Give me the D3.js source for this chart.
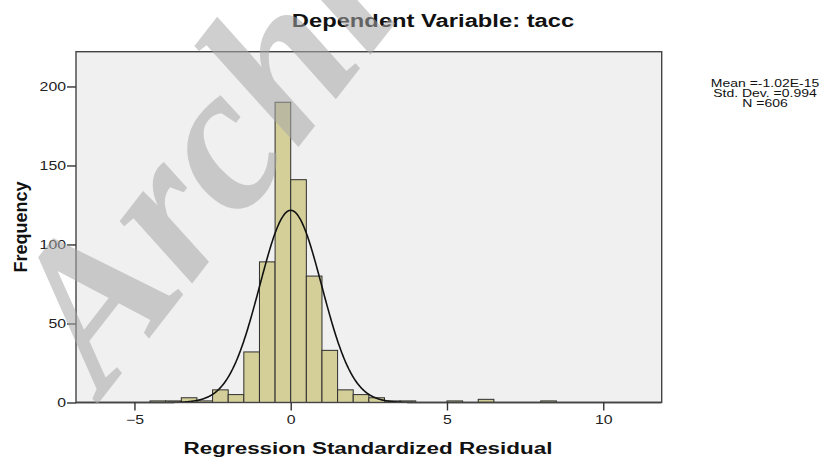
<!DOCTYPE html>
<html>
<head>
<meta charset="utf-8">
<script src="https://cdn.jsdelivr.net/npm/d3@7"></script>
<style>
  body { margin: 0; background: #fff; }
  svg { display: block; font-family: "Liberation Sans", Arial, sans-serif; }
</style>
</head>
<body>
<div id="chart"></div>
<script>
// histogram bins (left edge of each 0.5 wide bin) and frequencies
const binStarts = [-4.5, -4, -3.5, -3, -2.5, -2, -1.5, -1, -0.5, 0, 0.5, 1, 1.5, 2, 2.5, 3, 3.5, 5, 6, 8];
const counts    = [1, 1, 3, 1, 8, 5, 32, 89, 190, 141, 80, 33, 8, 5, 3, 1, 1, 1, 2, 1];
const binWidth = 0.5;

const xTicks = [-5, 0, 5, 10];
const yTicks = [0, 50, 100, 150, 200];

// fitted normal curve parameters
const mean = -1.02e-15;
const stdDev = 0.994;
const n = 606;
const statLines = ["Mean =-1.02E-15", "Std. Dev. =0.994", "N =606"];

const title = "Dependent Variable: tacc";
const xTitle = "Regression Standardized Residual";
const yTitle = "Frequency";

const width = 828, height = 459;
const sx = 1.32; // picture is stretched sideways

const svg = d3.select("#chart").append("svg")
    .attr("width", width)
    .attr("height", height);

const x = d3.scaleLinear().domain([-6.87, 11.87]).range([76, 661.7]);
const y = d3.scaleLinear().domain([0, 222]).range([402.5, 51.7]);

// plot background
svg.append("rect")
    .attr("x", x.range()[0])
    .attr("y", y.range()[1])
    .attr("width", x.range()[1] - x.range()[0])
    .attr("height", y.range()[0] - y.range()[1])
    .attr("fill", "#f0f0f0");

const bins = binStarts.map((s, i) => ({ x0: s, x1: s + binWidth, count: counts[i] }));

svg.selectAll(".bar")
    .data(bins)
    .enter()
    .append("rect")
    .attr("class", "bar")
    .attr("x", d => x(d.x0))
    .attr("y", d => y(d.count))
    .attr("width", d => x(d.x1) - x(d.x0))
    .attr("height", d => y(0) - y(d.count))
    .attr("fill", "#d4cf99")
    .attr("stroke", "#2e2e2e")
    .attr("stroke-width", 1);

// normal curve
const xs = d3.range(-6.87, 11.87, 0.02);
const normal = v => n * binWidth / (stdDev * Math.sqrt(2 * Math.PI)) * Math.exp(-0.5 * ((v - mean) / stdDev) ** 2);

svg.append("path")
    .datum(xs)
    .attr("fill", "none")
    .attr("stroke", "#111")
    .attr("stroke-width", 1.6)
    .attr("d", d3.line().x(d => x(d)).y(d => y(normal(d))));

// frame
svg.append("rect")
    .attr("x", x.range()[0])
    .attr("y", y.range()[1])
    .attr("width", x.range()[1] - x.range()[0])
    .attr("height", y.range()[0] - y.range()[1])
    .attr("fill", "none")
    .attr("stroke", "#444")
    .attr("stroke-width", 1.4);

// axes
const yAxis = svg.append("g")
    .attr("transform", "translate(" + x.range()[0] + ",0)")
    .call(d3.axisLeft(y).tickValues(yTicks).tickSize(9).tickPadding(1));
yAxis.select(".domain").remove();
yAxis.selectAll("line").attr("stroke", "#333").attr("stroke-width", 1.4);
yAxis.selectAll("text")
    .attr("font-size", 12)
    .attr("fill", "#222")
    .attr("font-family", "Liberation Sans, Arial, sans-serif")
    .attr("x", -10 / sx)
    .attr("transform", "scale(" + sx + ",1)");

const xAxis = svg.append("g")
    .attr("transform", "translate(0," + y.range()[0] + ")")
    .call(d3.axisBottom(x).tickValues(xTicks).tickSize(8).tickPadding(5));
xAxis.select(".domain").remove();
xAxis.selectAll("line").attr("stroke", "#333").attr("stroke-width", 1.4);
xAxis.selectAll("text")
    .attr("font-size", 12)
    .attr("fill", "#222")
    .attr("font-family", "Liberation Sans, Arial, sans-serif")
    .attr("transform", "scale(" + sx + ",1)");

// titles
svg.append("text")
    .attr("transform", "translate(433,27) scale(" + sx + ",1)")
    .attr("text-anchor", "middle")
    .attr("font-size", 18)
    .attr("font-weight", "bold")
    .attr("fill", "#111")
    .text(title);

svg.append("text")
    .attr("transform", "translate(368,454) scale(" + sx + ",1)")
    .attr("text-anchor", "middle")
    .attr("font-size", 17)
    .attr("font-weight", "bold")
    .attr("fill", "#111")
    .text(xTitle);

svg.append("text")
    .attr("transform", "translate(27,227) rotate(-90)")
    .attr("text-anchor", "middle")
    .attr("font-size", 18)
    .attr("font-weight", "bold")
    .attr("fill", "#111")
    .text(yTitle);

// stats text
svg.selectAll(".stat")
    .data(statLines)
    .enter()
    .append("text")
    .attr("class", "stat")
    .attr("transform", (d, i) => "translate(765," + (86.5 + i * 10.2) + ") scale(1.4,1)")
    .attr("text-anchor", "middle")
    .attr("font-size", 10)
    .attr("fill", "#111")
    .text(d => d);

// watermark
svg.append("text")
    .attr("transform", "translate(104,396) rotate(-52)")
    .attr("font-family", "Liberation Serif, Times New Roman, serif")
    .attr("font-style", "italic")
    .attr("font-weight", "bold")
    .attr("font-size", 208)
    .attr("fill", "#a8a8a8")
    .attr("fill-opacity", 0.55)
    .text("Archive");
</script>
</body>
</html>
